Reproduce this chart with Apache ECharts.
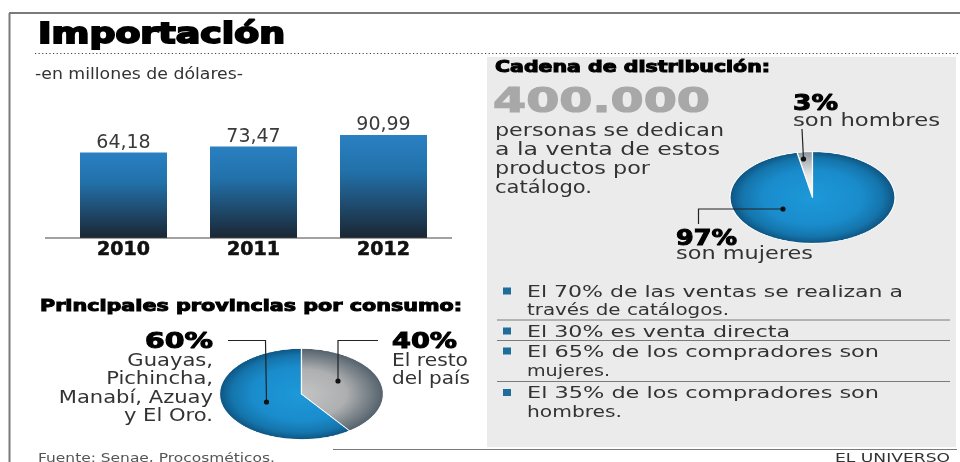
<!DOCTYPE html>
<html><head><meta charset="utf-8">
<script src="https://cdn.jsdelivr.net/npm/echarts@6/dist/echarts.min.js"></script>
<style>
html,body{margin:0;padding:0;background:#fff;overflow:hidden;width:960px;height:462px;}
#pies{position:absolute;left:0;top:0;width:960px;height:833px;transform:scaleY(0.555);transform-origin:0 0;}
#main{position:absolute;left:0;top:0;width:960px;height:462px;}
</style></head><body>
<div id="pies"></div><div id="main"></div>
<script>
// ---------- data ----------
const years = ['2010', '2011', '2012'];
const importValues = [64.18, 73.47, 90.99];
const sellersTotal = '400.000';
const sellersText = ['personas se dedican', 'a la venta de estos', 'productos por', 'catálogo.'];
const genderNames = ['son hombres', 'son mujeres'];
const genderValues = [3, 97];
const provinceNames = [['Guayas,', 'Pichincha,', 'Manabí, Azuay', 'y El Oro.'], ['El resto', 'del país']];
const provinceValues = [60, 40];
const facts = [
  ['El 70% de las ventas se realizan a', 'través de catálogos.'],
  ['El 30% es venta directa'],
  ['El 65% de los compradores son', 'mujeres.'],
  ['El 35% de los compradores son', 'hombres.']
];
const titleText = 'Importación';
const subtitleText = '-en millones de dólares-';
const provTitle = 'Principales provincias por consumo:';
const chainTitle = 'Cadena de distribución:';
const sourceText = 'Fuente: Senae, Procosméticos.';
const brandText = 'EL UNIVERSO';

// ---------- helpers ----------
const FONT = '"DejaVu Sans"';
const mctx = document.createElement('canvas').getContext('2d');
function measure(t, font) { mctx.font = font; return mctx.measureText(t).width; }
function txt(t, x, y, size, o) {
  o = o || {};
  const font = (o.bold ? 'bold ' : '') + size + 'px ' + FONT;
  const s = o.w ? o.w / measure(t, font) : (o.s || 1.25);
  const st = { text: t, x: 0, y: 0, font: font, fill: o.color || '#333',
    textAlign: o.align || 'left', textVerticalAlign: 'middle' };
  if (o.stroke) { st.stroke = o.color || '#000'; st.lineWidth = o.stroke; }
  return { type: 'text', x: x, y: y + 0.09 * size, scaleX: s, silent: true, z: 20, style: st };
}
function line(pts, color, w, dash) {
  return { type: 'polyline', silent: true, z: 15, shape: { points: pts },
    style: { stroke: color, lineWidth: w, lineDash: dash || null, fill: null } };
}
function dot(x, y) {
  return { type: 'circle', silent: true, z: 16, shape: { cx: x, cy: y, r: 2.6 }, style: { fill: '#111' } };
}

// ---------- pies (separate layer, squashed vertically) ----------
const SY = 0.555;
function radial(cx, cy, r, stops) {
  return { type: 'radial', x: cx, y: cy, r: r, global: true,
    colorStops: stops.map(s => ({ offset: s[0], color: s[1] })) };
}
const rc = [812.5, 197.5 / SY], rr = 82.5;
const bc = [301.5, 394 / SY], br = 82;
const blueStops = [[0, '#1d99d9'], [0.6, '#1a8ccc'], [0.85, '#1575ac'], [1, '#0e5582']];
const pies = echarts.init(document.getElementById('pies'), null, { renderer: 'canvas' });
pies.setOption({
  animation: false,
  graphic: [{ type: 'rect', z: -10, silent: true,
    shape: { x: 487, y: 57 / SY, width: 469, height: (447 - 57) / SY }, style: { fill: '#ebebeb' } }],
  series: [
    { type: 'pie', center: rc, radius: rr, startAngle: 90, clockwise: false, silent: true,
      label: { show: false }, labelLine: { show: false },
      itemStyle: { borderColor: '#ffffff', borderWidth: 1.2 },
      data: genderNames.map((n, i) => ({ name: n, value: genderValues[i], itemStyle: { color: i === 0
        ? radial(rc[0], rc[1], rr, [[0, '#ffffff'], [0.5, '#e6e6e6'], [1, '#8d979e']])
        : radial(rc[0], rc[1], rr, blueStops) } })) },
    { type: 'pie', center: bc, radius: br, startAngle: 90, clockwise: false, silent: true,
      label: { show: false }, labelLine: { show: false },
      itemStyle: { borderColor: '#ffffff', borderWidth: 1.2 },
      data: provinceNames.map((n, i) => ({ name: n.join(' '), value: provinceValues[i], itemStyle: { color: i === 0
        ? radial(bc[0], bc[1], br, blueStops)
        : radial(bc[0], bc[1], br, [[0, '#c4c4c4'], [0.55, '#adafb0'], [1, '#53616c']]) } })) }
  ]
});

// ---------- main layer ----------
const g = [];
// frame
g.push(line([[9, 13], [960, 13]], '#7a7a7a', 2));
g.push(line([[9.5, 13], [9.5, 462]], '#7a7a7a', 2));
g.push(line([[35, 53.5], [958, 53.5]], '#444', 1.2, [1.2, 2.4]));
g.push(line([[333, 449.5], [957, 449.5]], '#7a7a7a', 1.2));
g.push(line([[45, 238], [452, 238]], '#444', 1));
// titles
g.push(txt(titleText, 38, 33, 28, { bold: true, color: '#000', stroke: 1.8, w: 247 }));
g.push(txt(subtitleText, 35, 73.5, 16, { w: 208 }));
g.push(txt(provTitle, 40, 305, 16, { bold: true, color: '#000', stroke: 1.0, w: 422 }));
g.push(txt(chainTitle, 495, 67, 15, { bold: true, color: '#000', stroke: 1.0, w: 275 }));
g.push(txt(sellersTotal, 493, 100.5, 34, { bold: true, color: '#a8a8a8', stroke: 1.2, w: 217 }));
const sellerY = [130, 149.5, 168.5, 187], sellerW = [229, 225, 155, 97];
sellersText.forEach((t, i) => g.push(txt(t, 495, sellerY[i], 17, { w: sellerW[i] })));
// gender pie labels
g.push(txt(genderValues[0] + '%', 793, 103, 21, { bold: true, color: '#000', stroke: 1.0, w: 45 }));
g.push(txt(genderNames[0], 793, 120, 17, { w: 147 }));
g.push(txt(genderValues[1] + '%', 676, 238, 21, { bold: true, color: '#000', stroke: 1.0, w: 61 }));
g.push(txt(genderNames[1], 676, 253, 17, { w: 137 }));
g.push(line([[803.5, 159], [802, 129]], '#222', 1.2)); g.push(dot(803.5, 159));
g.push(line([[783, 209], [698.5, 209], [698.5, 224]], '#222', 1.2)); g.push(dot(783, 209));
// province pie labels
g.push(txt(provinceValues[0] + '%', 213, 341, 21, { bold: true, color: '#000', stroke: 1.0, w: 68, align: 'right' }));
const provY = [360, 378, 397, 415];
provinceNames[0].forEach((t, i) => g.push(txt(t, 213, provY[i], 17, { s: 1.24, align: 'right' })));
g.push(txt(provinceValues[1] + '%', 392, 341, 21, { bold: true, color: '#000', stroke: 1.0, w: 65 }));
const restW = [76, 78];
provinceNames[1].forEach((t, i) => g.push(txt(t, 392, provY[i], 17, { w: restW[i] })));
g.push(line([[266.5, 402], [265.5, 340.5], [228, 340.5]], '#222', 1.2)); g.push(dot(266.5, 402));
g.push(line([[338, 381], [338, 340.5], [378, 340.5]], '#222', 1.2)); g.push(dot(338, 381));
// facts list
const factY = [[291, 309.5], [331], [351, 370], [392.5, 411.5]];
const factW = [[376, 202], [263], [352, 83], [352, 95]];
facts.forEach((f, i) => {
  g.push({ type: 'rect', silent: true, z: 15, shape: { x: 503, y: factY[i][0] - 3.5, width: 8, height: 7 }, style: { fill: '#1f6d9a' } });
  f.forEach((t, j) => g.push(txt(t, 527, factY[i][j], 16, { w: factW[i][j] })));
});
[320, 340.5, 381.5].forEach(y => g.push(line([[497, y], [950, y]], '#7a7a7a', 1)));
// footer
g.push(txt(sourceText, 38, 457.5, 12, { color: '#555', w: 237 }));
g.push(txt(brandText, 950, 457.5, 12, { color: '#333', w: 115, align: 'right' }));

const main = echarts.init(document.getElementById('main'), null, { renderer: 'canvas' });
main.setOption({
  animation: false,
  grid: { left: 58.5, width: 390, top: 129, bottom: 224 },
  xAxis: { type: 'category', data: years, axisLine: { show: false }, axisTick: { show: false },
    axisLabel: { fontFamily: 'DejaVu Sans', fontWeight: 'bold', fontSize: 19, color: '#111', margin: 3,
      textBorderColor: '#111', textBorderWidth: 0.6 } },
  yAxis: { type: 'value', min: -66, max: 100, startValue: -66, show: false, splitLine: { show: false } },
  series: [{ type: 'bar', data: importValues, barWidth: 87, silent: true,
    itemStyle: { color: { type: 'linear', x: 0, y: 0, x2: 0, y2: 1, colorStops: [
      { offset: 0, color: '#2a80c2' }, { offset: 0.35, color: '#2271aa' }, { offset: 1, color: '#1b2633' }] } },
    label: { show: true, position: 'top', distance: 0, fontFamily: 'DejaVu Sans', fontSize: 19, color: '#3a3a3a',
      formatter: p => p.value.toFixed(2).replace('.', ',') } }],
  graphic: g
});
</script></body></html>
